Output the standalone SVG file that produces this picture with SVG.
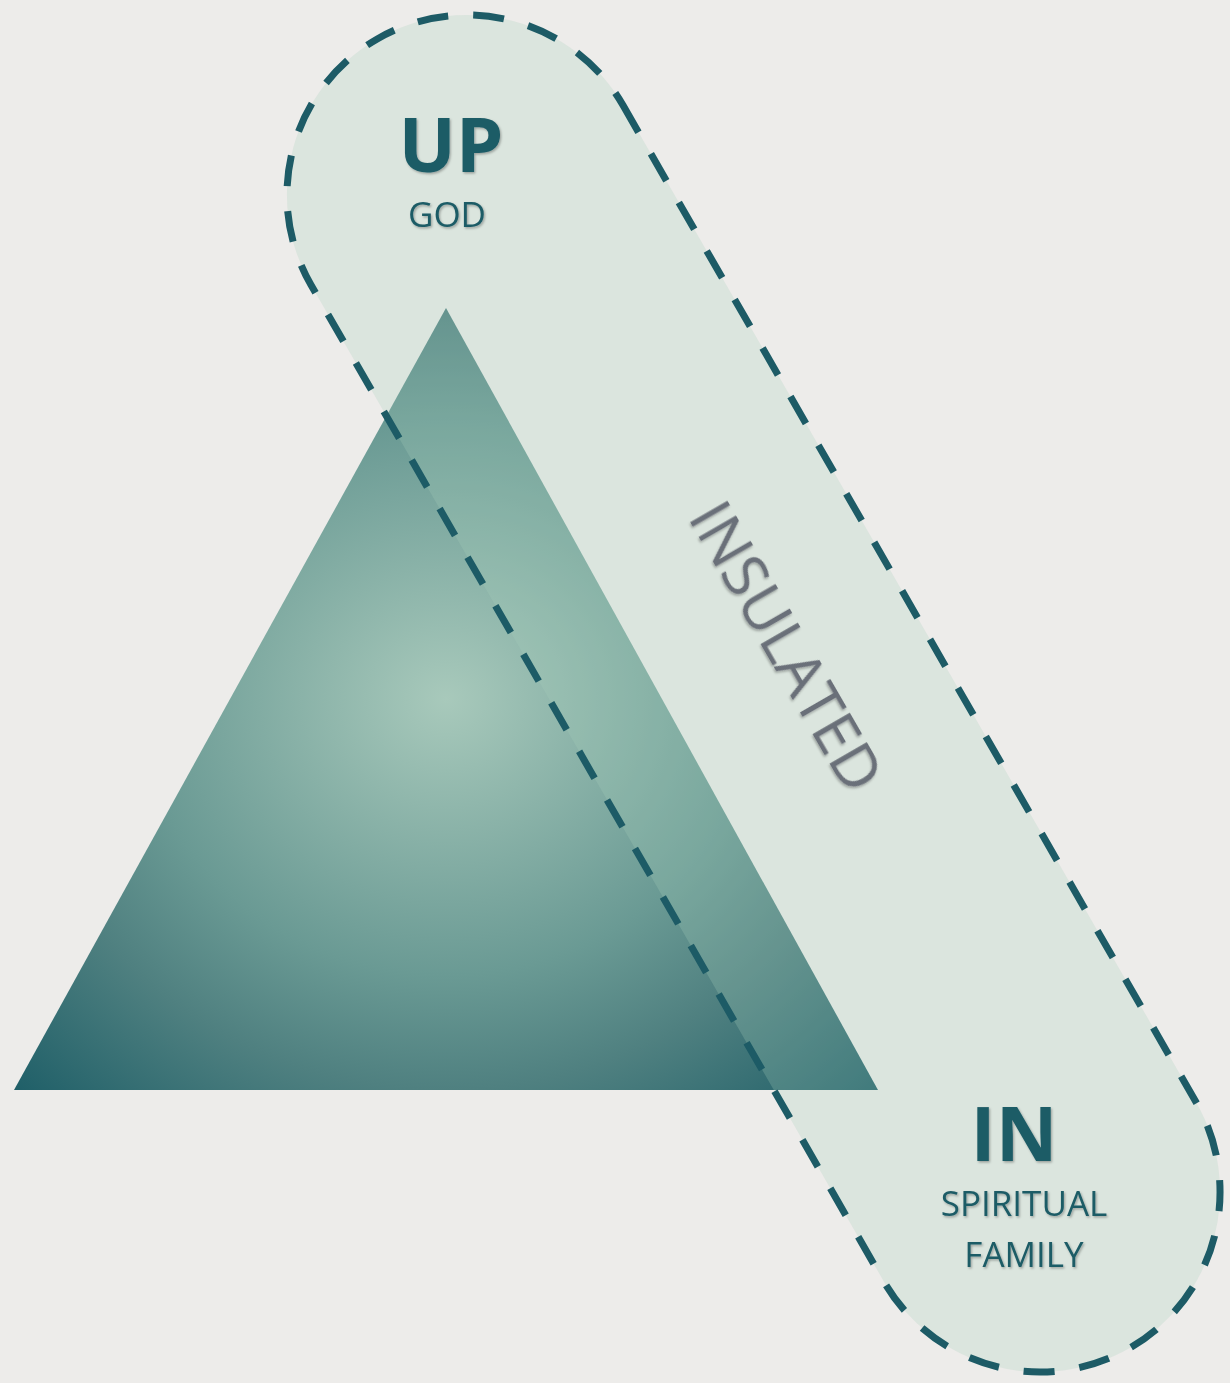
<svg xmlns="http://www.w3.org/2000/svg" width="1230" height="1383" viewBox="0 0 1230 1383">
  <defs>
    <radialGradient id="triGrad" gradientUnits="objectBoundingBox" cx="0.5" cy="0.5" r="0.707">
      <stop offset="0" stop-color="#A8C9BB"/>
      <stop offset="0.5" stop-color="#6A9A94"/>
      <stop offset="0.707" stop-color="#4F8080"/>
      <stop offset="1" stop-color="#1F5F68"/>
    </radialGradient>
    <filter id="shadow" x="-10%" y="-10%" width="130%" height="130%">
      <feDropShadow dx="1.2" dy="1.5" stdDeviation="1.3" flood-color="#000" flood-opacity="0.3"/>
    </filter>
  </defs>
  <style>
    .bg { fill: #EDECEA; }
    .capsule-fill { fill: rgb(169,208,186); fill-opacity: 0.25; stroke: none; }
    .capsule-line { fill: none; stroke: #1D5B66; stroke-width: 7; stroke-dasharray: 31 25; }
    .title { font-family: "Open Sans", "Liberation Sans", sans-serif; font-weight: 700; font-size: 76px; fill: #1D5B66; text-anchor: middle; }
    .sub { font-family: "Open Sans", "Liberation Sans", sans-serif; font-weight: 400; font-size: 35px; fill: #1D5B66; text-anchor: middle; }
    .side { font-family: "Open Sans", "Liberation Sans", sans-serif; font-weight: 400; font-size: 61px; fill: #6B7079; text-anchor: middle; }
  </style>
  <rect class="bg" x="0" y="0" width="1230" height="1383"/>

  <g id="triangle">
    <polygon points="446,308 14,1090 878,1090" fill="url(#triGrad)"/>
  </g>

  <g id="insulated-zone">
    <rect class="capsule-fill" x="-755" y="-180" width="1510" height="360" rx="180" ry="180" transform="translate(753.5,693.5) rotate(60.11)"/>
    <rect class="capsule-line" x="-755" y="-180" width="1510" height="360" rx="180" ry="180" transform="translate(753.5,693.5) rotate(60.11)"/>
    <text class="side" filter="url(#shadow)" transform="translate(768,657) rotate(60)" x="0" y="0">INSULATED</text>
  </g>

  <g id="node-up">
    <text class="title" filter="url(#shadow)" x="451" y="172">UP</text>
    <text class="sub" filter="url(#shadow)" x="447" y="227">GOD</text>
  </g>

  <g id="node-in">
    <text class="title" filter="url(#shadow)" x="1014" y="1161">IN</text>
    <text class="sub" filter="url(#shadow)" x="1024" y="1216">SPIRITUAL</text>
    <text class="sub" filter="url(#shadow)" x="1024" y="1267">FAMILY</text>
  </g>

  <g id="connectors"></g>
</svg>
